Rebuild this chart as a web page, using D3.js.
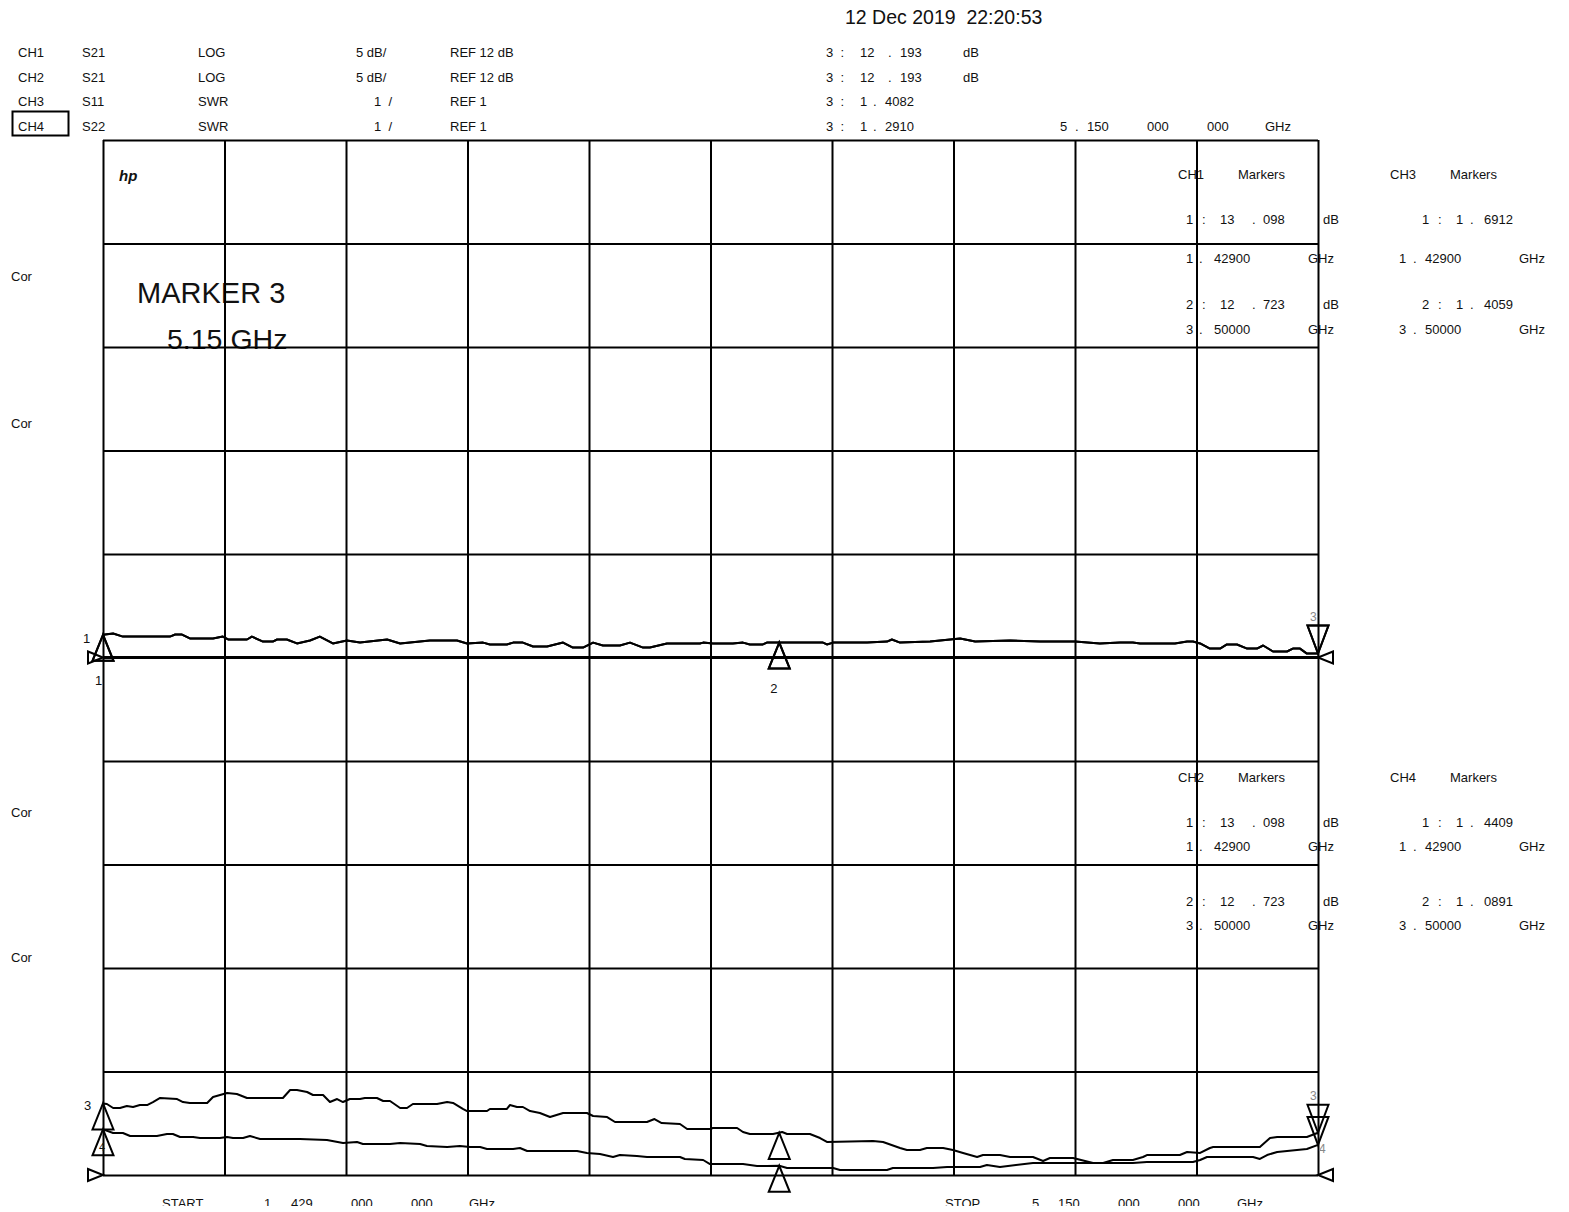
<!DOCTYPE html>
<html>
<head>
<meta charset="utf-8">
<script src="https://cdn.jsdelivr.net/npm/d3@7"></script>
<style>
  body { margin: 0; background: #fff; }
  text { font-family: "Liberation Sans", Arial, sans-serif; font-size: 13px; fill: #111; white-space: pre; }
</style>
</head>
<body>
<div id="chart"></div>
<script>
// ---- data ----
const stamp = "12 Dec 2019  22:20:53";
const channels = ["CH1", "CH2", "CH3", "CH4"];
const params = ["S21", "S21", "S11", "S22"];
const formats = ["LOG", "LOG", "SWR", "SWR"];
const scaleLabels = ["5 dB/", "5 dB/", "1  /", "1  /"];
const refLabels = ["REF 12 dB", "REF 12 dB", "REF 1", "REF 1"];

const startGHz = 1.429, stopGHz = 5.15;
const refDb = 12, dbPerDiv = 5, refDivDb = 5;
const refSwr = 1, swrPerDiv = 1, refDivSwr = 0;

const markerFreq = [1.429, 3.5, 5.15];
const ch1MarkerDb = [13.098, 12.723, 12.193];
const ch2MarkerDb = [13.098, 12.723, 12.193];
const ch3MarkerSwr = [1.6912, 1.4059, 1.4082];
const ch4MarkerSwr = [1.4409, 1.0891, 1.2910];

// S21 trace (CH1 and CH2 show the same measurement)
const ch1Freq = [1.429, 1.460, 1.490, 1.634, 1.650, 1.671, 1.695, 1.766, 1.796, 1.812, 1.870, 1.885, 1.919, 1.949,
  1.962, 1.992, 2.023, 2.063, 2.093, 2.133, 2.176, 2.216, 2.299, 2.339, 2.430, 2.513, 2.544, 2.593, 2.614, 2.666,
  2.685, 2.715, 2.746, 2.789, 2.838, 2.868, 2.899, 2.930, 2.960, 3.012, 3.043, 3.083, 3.104, 3.156, 3.257, 3.267,
  3.297, 3.358, 3.389, 3.410, 3.450, 3.462, 3.634, 3.646, 3.665, 3.769, 3.830, 3.845, 3.870, 3.962, 4.054, 4.100,
  4.207, 4.299, 4.406, 4.482, 4.544, 4.583, 4.605, 4.666, 4.712, 4.749, 4.767, 4.789, 4.819, 4.850, 4.871, 4.902,
  4.933, 4.963, 4.982, 5.012, 5.055, 5.073, 5.095, 5.116, 5.150];
const ch1Db = [13.10, 13.16, 13.01, 13.01, 13.11, 13.11, 12.92, 12.92, 13.01, 12.87, 12.87, 13.01, 12.77, 12.77,
  12.87, 12.87, 12.68, 12.82, 13.01, 12.68, 12.82, 12.72, 12.87, 12.68, 12.82, 12.82, 12.68, 12.72, 12.63, 12.63,
  12.72, 12.72, 12.53, 12.53, 12.72, 12.48, 12.48, 12.72, 12.58, 12.58, 12.72, 12.48, 12.48, 12.68, 12.68, 12.72,
  12.68, 12.68, 12.72, 12.63, 12.63, 12.72, 12.72, 12.63, 12.72, 12.72, 12.77, 12.87, 12.72, 12.77, 12.92, 12.77,
  12.82, 12.77, 12.77, 12.68, 12.72, 12.72, 12.68, 12.68, 12.68, 12.77, 12.77, 12.68, 12.43, 12.43, 12.63, 12.63,
  12.43, 12.43, 12.58, 12.29, 12.29, 12.43, 12.43, 12.19, 12.19];

// S11 SWR trace
const ch3Freq = [1.429, 1.441, 1.460, 1.481, 1.502, 1.521, 1.542, 1.564, 1.582, 1.604, 1.656, 1.674, 1.695, 1.748,
  1.766, 1.809, 1.839, 1.870, 1.980, 2.002, 2.023, 2.054, 2.072, 2.103, 2.124, 2.146, 2.164, 2.185, 2.216, 2.231,
  2.268, 2.287, 2.308, 2.339, 2.360, 2.378, 2.452, 2.483, 2.501, 2.531, 2.544, 2.605, 2.614, 2.666, 2.675, 2.697,
  2.715, 2.737, 2.767, 2.798, 2.838, 2.911, 2.930, 2.973, 2.997, 3.095, 3.118, 3.140, 3.196, 3.218, 3.288, 3.297,
  3.371, 3.389, 3.410, 3.481, 3.509, 3.524, 3.594, 3.625, 3.646, 3.787, 3.818, 3.870, 3.891, 3.931, 3.952, 4.002,
  4.032, 4.063, 4.106, 4.124, 4.176, 4.207, 4.277, 4.308, 4.329, 4.400, 4.461, 4.492, 4.522, 4.583, 4.614, 4.626,
  4.727, 4.749, 4.789, 4.819, 4.829, 4.972, 5.003, 5.025, 5.116, 5.150];
const ch3Swr = [1.691, 1.686, 1.647, 1.647, 1.667, 1.657, 1.676, 1.676, 1.705, 1.744, 1.734, 1.705, 1.696, 1.696,
  1.754, 1.792, 1.783, 1.744, 1.744, 1.821, 1.821, 1.802, 1.773, 1.773, 1.705, 1.734, 1.705, 1.734, 1.734, 1.744,
  1.744, 1.715, 1.715, 1.647, 1.647, 1.686, 1.686, 1.705, 1.696, 1.638, 1.618, 1.618, 1.638, 1.638, 1.676, 1.657,
  1.657, 1.618, 1.599, 1.560, 1.599, 1.599, 1.570, 1.560, 1.512, 1.512, 1.541, 1.502, 1.493, 1.444, 1.444, 1.454,
  1.454, 1.415, 1.396, 1.396, 1.415, 1.396, 1.396, 1.357, 1.319, 1.329, 1.319, 1.261, 1.242, 1.242, 1.261, 1.261,
  1.242, 1.213, 1.174, 1.193, 1.193, 1.174, 1.174, 1.135, 1.164, 1.164, 1.116, 1.116, 1.145, 1.145, 1.174, 1.193,
  1.193, 1.222, 1.213, 1.261, 1.271, 1.271, 1.357, 1.367, 1.367, 1.408];

// S22 SWR trace
const ch4Freq = [1.429, 1.460, 1.490, 1.512, 1.594, 1.625, 1.643, 1.665, 1.705, 1.726, 1.787, 1.809, 1.827, 1.858,
  1.879, 1.910, 2.032, 2.115, 2.164, 2.207, 2.225, 2.308, 2.339, 2.400, 2.421, 2.483, 2.522, 2.553, 2.584, 2.605,
  2.685, 2.706, 2.728, 2.881, 2.911, 2.951, 2.991, 3.012, 3.064, 3.095, 3.196, 3.211, 3.267, 3.288, 3.389, 3.432,
  3.462, 3.500, 3.524, 3.665, 3.686, 3.830, 3.848, 3.971, 4.014, 4.115, 4.136, 4.176, 4.277, 4.308, 4.400, 4.492,
  4.583, 4.626, 4.767, 4.789, 4.810, 4.951, 4.972, 4.994, 5.025, 5.116, 5.150];
const ch4Swr = [1.441, 1.406, 1.406, 1.377, 1.377, 1.396, 1.396, 1.367, 1.367, 1.357, 1.357, 1.367, 1.357, 1.357,
  1.377, 1.348, 1.348, 1.338, 1.309, 1.319, 1.300, 1.300, 1.309, 1.300, 1.280, 1.271, 1.280, 1.271, 1.271, 1.251,
  1.251, 1.261, 1.232, 1.232, 1.213, 1.203, 1.174, 1.193, 1.184, 1.174, 1.174, 1.155, 1.145, 1.106, 1.106, 1.087,
  1.087, 1.089, 1.068, 1.068, 1.048, 1.048, 1.068, 1.068, 1.077, 1.077, 1.097, 1.077, 1.116, 1.116, 1.116, 1.116,
  1.116, 1.126, 1.126, 1.145, 1.174, 1.174, 1.155, 1.193, 1.222, 1.251, 1.291];

// ---- layout ----
const W = 1569, H = 1212;
const plot = { left: 103, right: 1318, top: 140, bottom: 1175 };
const nDiv = 10;

const svg = d3.select("#chart").append("svg")
    .attr("width", W)
    .attr("height", H);

const x = d3.scaleLinear().domain([startGHz, stopGHz]).range([plot.left, plot.right]);
const yDb = d3.scaleLinear()
    .domain([refDb - refDivDb * dbPerDiv, refDb + (nDiv - refDivDb) * dbPerDiv])
    .range([plot.bottom, plot.top]);
const ySwr = d3.scaleLinear()
    .domain([refSwr - refDivSwr * swrPerDiv, refSwr + (nDiv - refDivSwr) * swrPerDiv])
    .range([plot.bottom, plot.top]);
const gx = d3.scaleLinear().domain([0, nDiv]).range([plot.left, plot.right]);
const gy = d3.scaleLinear().domain([0, nDiv]).range([plot.bottom, plot.top]);

function txt(g, px, py, s) {
    return g.append("text").attr("x", px).attr("y", py).text(s);
}
function split(v, dec) { return v.toFixed(dec).split("."); }

// ---- header ----
txt(svg, 845, 24, stamp).style("font-size", "19.5px");

const head = svg.append("g");
const rowY = [57, 82, 106, 131];
channels.forEach((c, i) => {
    const yy = rowY[i];
    txt(head, 18, yy, c);
    txt(head, 82, yy, params[i]);
    txt(head, 198, yy, formats[i]);
    txt(head, i < 2 ? 356 : 374, yy, scaleLabels[i]);
    txt(head, 450, yy, refLabels[i]);
    txt(head, 826, yy, "3  :");
    const isDb = i < 2;
    const v = isDb ? [ch1MarkerDb, ch2MarkerDb][i][2] : [ch3MarkerSwr, ch4MarkerSwr][i - 2][2];
    const p = split(v, isDb ? 3 : 4);
    if (isDb) {
        txt(head, 860, yy, p[0]);
        txt(head, 888, yy, ".");
        txt(head, 900, yy, p[1]);
        txt(head, 963, yy, "dB");
    } else {
        txt(head, 860, yy, p[0]);
        txt(head, 873, yy, ".");
        txt(head, 885, yy, p[1]);
    }
});
head.append("rect").attr("x", 12.5).attr("y", 111.5).attr("width", 56).attr("height", 24)
    .attr("fill", "none").attr("stroke", "#000").attr("stroke-width", 2);

// active stimulus, split like the instrument prints it
const stim = split(markerFreq[2], 9);
txt(head, 1060, rowY[3], stim[0]);
txt(head, 1075, rowY[3], ".");
[0, 1, 2].forEach(k => txt(head, 1087 + k * 60, rowY[3], stim[1].slice(k * 3, k * 3 + 3)));
txt(head, 1265, rowY[3], "GHz");

["Cor", "Cor", "Cor", "Cor"].forEach((s, i) => txt(svg, 11, [281, 428, 817, 962][i], s));

// ---- marker tables ----
function dbTable(ch, vals, top) {
    const g = svg.append("g");
    const r = [top, top + 45, top + 84, top + 130, top + 155];
    if (top > 500) { r[2] = top + 69; r[3] = top + 124; r[4] = top + 148; }
    txt(g, 1178, r[0], ch);
    txt(g, 1238, r[0], "Markers");
    [0, 1].forEach(m => {
        const p = split(vals[m], 3);
        const f = split(markerFreq[m], 5);
        const vy = r[1 + m * 2], fy = r[2 + m * 2];
        txt(g, 1186, vy, String(m + 1));
        txt(g, 1202, vy, ":");
        txt(g, 1220, vy, p[0]);
        txt(g, 1252, vy, ".");
        txt(g, 1263, vy, p[1]);
        txt(g, 1323, vy, "dB");
        txt(g, 1186, fy, f[0]);
        txt(g, 1199, fy, ".");
        txt(g, 1214, fy, f[1]);
        txt(g, 1308, fy, "GHz");
    });
}
function swrTable(ch, vals, top) {
    const g = svg.append("g");
    const r = [top, top + 45, top + 84, top + 130, top + 155];
    if (top > 500) { r[2] = top + 69; r[3] = top + 124; r[4] = top + 148; }
    txt(g, 1390, r[0], ch);
    txt(g, 1450, r[0], "Markers");
    [0, 1].forEach(m => {
        const p = split(vals[m], 4);
        const f = split(markerFreq[m], 5);
        const vy = r[1 + m * 2], fy = r[2 + m * 2];
        txt(g, 1422, vy, String(m + 1));
        txt(g, 1438, vy, ":");
        txt(g, 1456, vy, p[0]);
        txt(g, 1470, vy, ".");
        txt(g, 1484, vy, p[1]);
        txt(g, 1399, fy, f[0]);
        txt(g, 1413, fy, ".");
        txt(g, 1425, fy, f[1]);
        txt(g, 1519, fy, "GHz");
    });
}
dbTable("CH1", ch1MarkerDb, 179);
swrTable("CH3", ch3MarkerSwr, 179);
dbTable("CH2", ch2MarkerDb, 782);
swrTable("CH4", ch4MarkerSwr, 782);

// ---- annotations inside the graticule ----
txt(svg, 119, 181, "hp").style("font-size", "15px").style("font-style", "italic").style("font-weight", "bold");
txt(svg, 137, 303, "MARKER 3").style("font-size", "29px");
txt(svg, 167, 349, "5.15 GHz").style("font-size", "28.5px");

// ---- graticule ----
const grid = svg.append("g");
grid.append("g")
    .attr("transform", `translate(0,${plot.bottom})`)
    .call(d3.axisBottom(gx).tickValues(d3.range(nDiv + 1)).tickSize(-(plot.bottom - plot.top)).tickFormat(""))
    .call(g => g.select(".domain").remove());
grid.append("g")
    .attr("transform", `translate(${plot.left},0)`)
    .call(d3.axisLeft(gy).tickValues(d3.range(nDiv + 1)).tickSize(-(plot.right - plot.left)).tickFormat(""))
    .call(g => g.select(".domain").remove());
grid.selectAll(".tick line").attr("stroke", "#000").attr("stroke-width", 2);

// reference line of the dB channels
svg.append("line")
    .attr("x1", plot.left).attr("x2", plot.right)
    .attr("y1", yDb(refDb)).attr("y2", yDb(refDb))
    .attr("stroke", "#000").attr("stroke-width", 3);

// reference position pointers
const refYs = [yDb(refDb), ySwr(refSwr)];
svg.selectAll("path.refL").data(refYs).enter().append("path")
    .attr("d", d => `M${plot.left - 15},${d - 6} L${plot.left},${d} L${plot.left - 15},${d + 6} Z`)
    .attr("fill", "#fff").attr("stroke", "#000").attr("stroke-width", 2);
svg.selectAll("path.refR").data(refYs).enter().append("path")
    .attr("d", d => `M${plot.right + 15},${d - 6} L${plot.right},${d} L${plot.right + 15},${d + 6} Z`)
    .attr("fill", "#fff").attr("stroke", "#000").attr("stroke-width", 2);

// ---- traces ----
function trace(freq, vals, yScale) {
    svg.append("path")
        .datum(d3.zip(freq, vals))
        .attr("d", d3.line().x(d => x(d[0])).y(d => yScale(d[1])))
        .attr("fill", "none")
        .attr("stroke", "#000")
        .attr("stroke-width", 2)
        .attr("stroke-linejoin", "round");
}
trace(ch1Freq, ch1Db, yDb);   // CH1
trace(ch1Freq, ch1Db, yDb);   // CH2 overlays CH1
trace(ch3Freq, ch3Swr, ySwr);
trace(ch4Freq, ch4Swr, ySwr);

// ---- markers ----
function markers(vals, yScale) {
    const pts = markerFreq.map((f, i) => ({ i: i, px: x(f), py: yScale(vals[i]) }));
    svg.selectAll(null).data(pts).enter().append("path")
        .attr("d", d => d.i < 2
            ? `M${d.px},${d.py} L${d.px - 10.5},${d.py + 26} L${d.px + 10.5},${d.py + 26} Z`
            : `M${d.px},${d.py} L${d.px - 10.5},${d.py - 28} L${d.px + 10.5},${d.py - 28} Z`)
        .attr("fill", "none")
        .attr("stroke", "#000")
        .attr("stroke-width", 2);
    return pts;
}
const m1 = markers(ch1MarkerDb, yDb);
const m2 = markers(ch2MarkerDb, yDb);
const m3 = markers(ch3MarkerSwr, ySwr);
const m4 = markers(ch4MarkerSwr, ySwr);

// trace / marker numbers
txt(svg, m1[0].px - 20, m1[0].py + 8, "1");
txt(svg, m2[0].px - 8, m2[0].py + 50, "1");
txt(svg, m2[1].px - 9, m2[1].py + 50, "2");
txt(svg, m1[2].px - 8, m1[2].py - 33, "3").style("fill", "#888").style("font-size", "12px");
txt(svg, m3[0].px - 19, m3[0].py + 7, "3");
txt(svg, m4[0].px - 4, m4[0].py + 22, "4").style("font-size", "11px");
txt(svg, m3[2].px - 8, m3[2].py - 33, "3").style("fill", "#888").style("font-size", "12px");
txt(svg, m4[2].px + 1, m4[2].py + 8, "4").style("fill", "#888").style("font-size", "12px");

// ---- start / stop line (cut off at the bottom of the print) ----
svg.append("clipPath").attr("id", "cut")
    .append("rect").attr("x", 0).attr("y", 0).attr("width", W).attr("height", 1206);
const foot = svg.append("g").attr("clip-path", "url(#cut)");
const st = split(startGHz, 9), sp = split(stopGHz, 9);
txt(foot, 162, 1208, "START");
txt(foot, 264, 1208, st[0]);
[0, 1, 2].forEach(k => txt(foot, 291 + k * 60, 1208, st[1].slice(k * 3, k * 3 + 3)));
txt(foot, 469, 1208, "GHz");
txt(foot, 945, 1208, "STOP");
txt(foot, 1032, 1208, sp[0]);
[0, 1, 2].forEach(k => txt(foot, 1058 + k * 60, 1208, sp[1].slice(k * 3, k * 3 + 3)));
txt(foot, 1237, 1208, "GHz");
</script>
</body>
</html>
